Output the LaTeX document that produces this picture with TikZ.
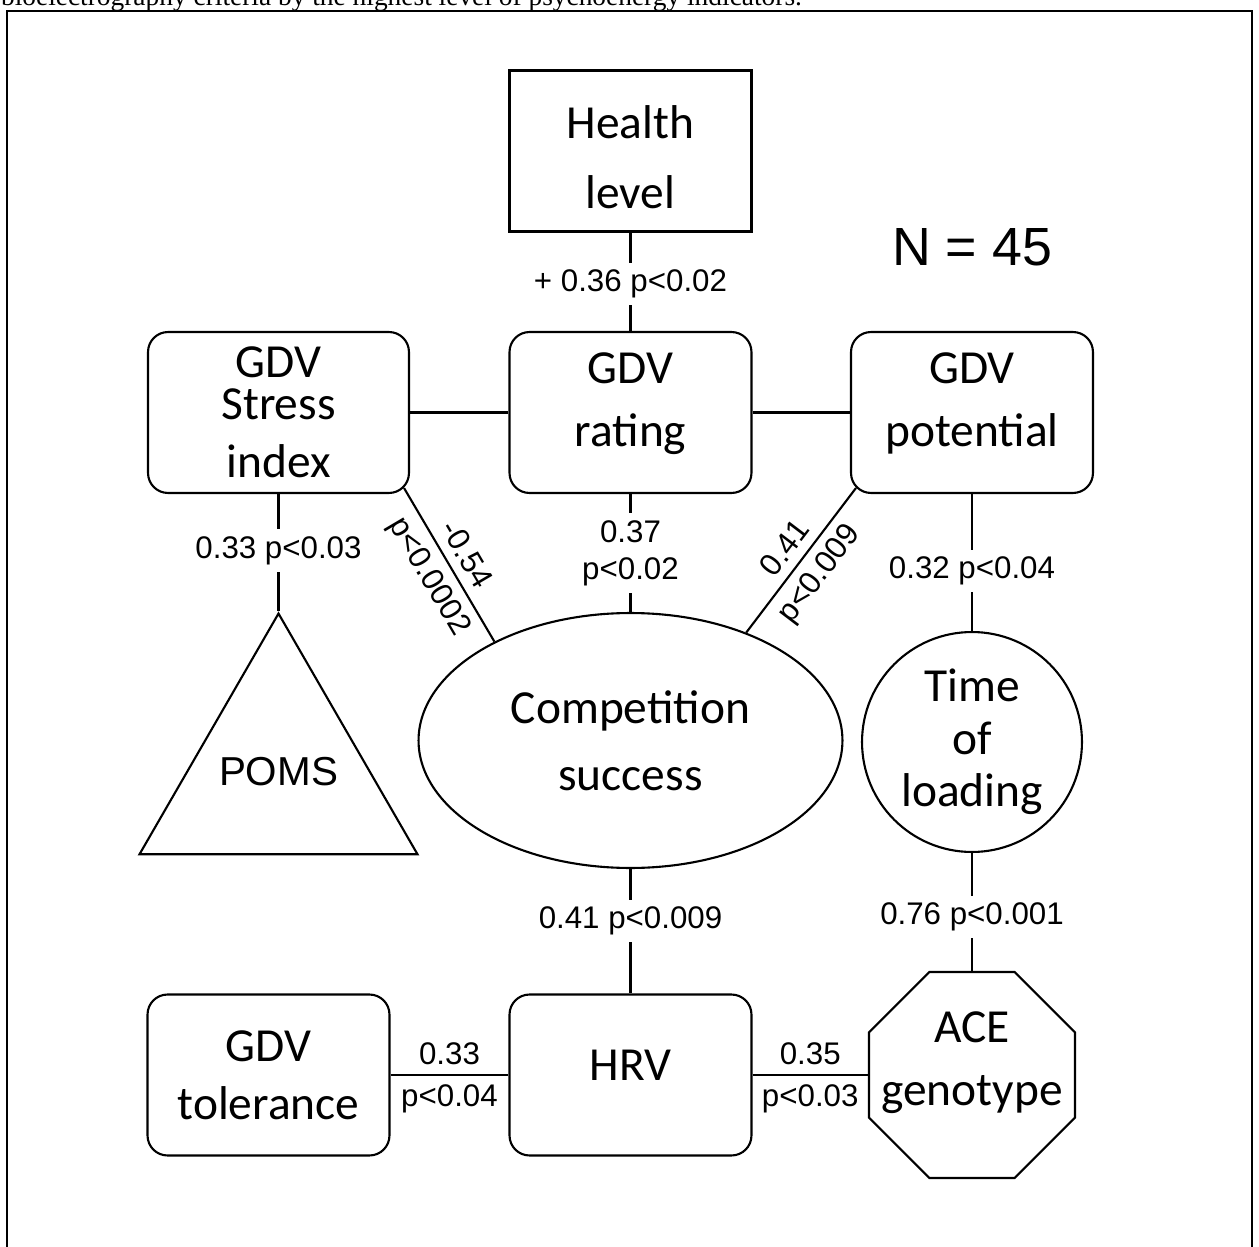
\documentclass[tikz,border=0pt]{standalone}
\usepackage{fontspec}
\setmainfont{Carlito}
\newfontfamily\arialfont{Liberation Sans}
\newfontfamily\timesfont{Liberation Serif}
\usetikzlibrary{shapes.geometric,calc}

\begin{document}
\begin{tikzpicture}[x=0.02cm,y=-0.02cm,line width=1.2pt,
  every node/.style={align=center,font=\fontsize{27}{36}\selectfont},
  box/.style={draw,minimum width=4.84cm,minimum height=3.22cm,inner sep=0pt},
  rbox/.style={box,rounded corners=0.4cm},
  corr/.style={font=\arialfont\fontsize{17.8}{21}\selectfont,fill=white,inner xsep=2pt,inner ysep=4pt},
  corrside/.style={font=\arialfont\fontsize{17.8}{21}\selectfont,inner sep=5pt}]

  \useasboundingbox (0,0) rectangle (1259,1247);
  \clip (0,0) rectangle (1259,1247);

  % Caption line and frame
  \node[font=\timesfont\fontsize{15.6}{18}\selectfont,anchor=base west,inner sep=0pt] (caption) at (0,6)
    {bioelectrography criteria by the highest level of psychoenergy indicators.};
  \draw (7,11) rectangle (1252,1265);

  % Specification of nodes (position, etc.)
  \node[box,text height=66pt] (health) at (630.5,151) {Health\\[4pt]level};
  \node[rbox,minimum width=5.22cm] (stress) at (278.5,412.5) {GDV\\[-12pt]Stress\\[-3pt]index};
  \node[rbox,text depth=15pt] (rating) at (630.5,412.5) {GDV\\rating};
  \node[rbox,text depth=15pt] (potential) at (972,412.5) {GDV\\potential};
  \node[font=\arialfont\fontsize{30.6}{36}\selectfont] (n) at (972,247) {N = 45};

  \node[draw,regular polygon,regular polygon sides=3,minimum size=6.42cm,inner sep=0pt,
    label={[font=\arialfont\fontsize{23}{28}\selectfont,yshift=1.5pt]center:POMS}] (poms) at (278.5,774) {};
  \node[draw,ellipse,minimum width=8.48cm,minimum height=5.1cm] (comp) at (630.5,740.5) {Competition\\[2pt]success};
  \node[draw,circle,minimum size=4.4cm,inner sep=0pt] (time) at (972,742) {Time\\[-6pt]of\\[-6pt]loading};

  \node[rbox] (tolerance) at (268.5,1075) {GDV\\[-3pt]tolerance};
  \node[rbox,text depth=11pt] (hrv) at (630.5,1075) {HRV};
  \node[draw,regular polygon,regular polygon sides=8,minimum size=4.46cm,inner sep=0pt,
    label={[align=center,yshift=6.8pt]center:ACE\\genotype}] (ace) at (972,1075) {};

  % Correlations
  \draw (health) -- node[corr,pos=.52]{+ 0.36 p<0.02} (rating);
  \draw (stress) -- (rating);
  \draw (rating) -- (potential);
  \draw (stress) -- node[corr,pos=.48]{0.33 p<0.03} (poms);
  \draw ($(stress.south east)+(-6,-6)$) -- node[corrside,sloped,above]{-0.54} node[corrside,sloped,below]{p<0.0002} (comp.144);
  \draw (rating) -- node[corr]{0.37\\p<0.02} (comp);
  \draw ($(potential.south west)+(6,-6)$) -- node[corrside,sloped,above]{0.41} node[corrside,sloped,below]{p<0.009} (comp.43);
  \draw (potential) -- node[corr,pos=.56]{0.32 p<0.04} (time);
  \draw (comp) -- node[corr,pos=.42]{0.41 p<0.009} (hrv);
  \draw (time) -- node[corr,pos=.54]{0.76 p<0.001} (ace);
  \draw (tolerance) -- node[corrside,above]{0.33} node[corrside,below]{p<0.04} (hrv);
  \draw (hrv) -- node[corrside,above]{0.35} node[corrside,below]{p<0.03} (ace);

\end{tikzpicture}
\end{document}
